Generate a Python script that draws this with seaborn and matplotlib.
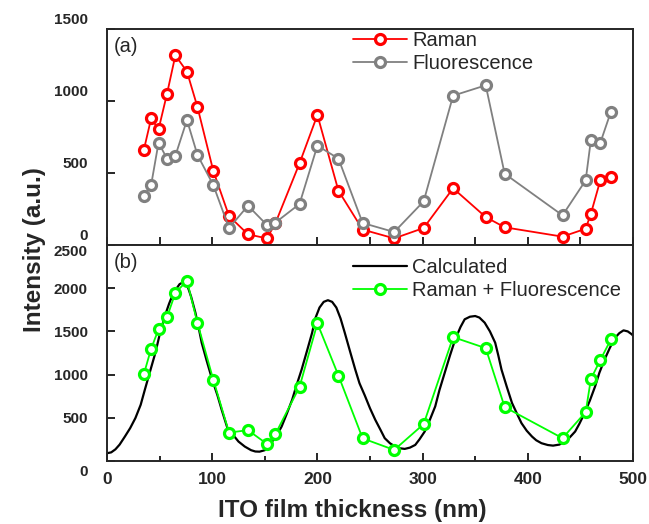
import matplotlib
matplotlib.use("Agg")
import matplotlib.pyplot as plt
import matplotlib.transforms as mtransforms
import seaborn as sns
from matplotlib.ticker import MultipleLocator

# thickness (nm) of the measured samples
thick_raman = [35, 42, 49, 57, 65, 76, 86, 101, 116, 134, 152, 160, 183, 200, 220,
               243, 273, 301, 329, 360, 378, 433, 455, 460, 469, 479]
raman = [660, 880, 803, 1049, 1317, 1204, 958, 516, 201, 74, 46, 150, 567, 903, 377,
         107, 46, 118, 394, 194, 123, 58, 113, 218, 451, 474]

thick_fluo = thick_raman
fluorescence = [338, 419, 711, 600, 620, 868, 625, 417, 118, 273, 139, 155, 285, 690, 600,
                153, 90, 303, 1037, 1109, 495, 206, 449, 731, 711, 926]

thick_sum = thick_raman
raman_fluo = [1004, 1302, 1524, 1663, 1946, 2086, 1597, 942, 329, 357, 198, 310, 857, 1593, 989,
              262, 128, 427, 1434, 1306, 624, 264, 566, 950, 1171, 1407]

# calculated curve
calc_x = [0, 4, 8, 12, 17, 22, 27, 32, 36, 41, 46, 50, 55, 59, 62, 66, 69, 72, 75, 77, 80,
          84, 87, 90, 95, 100, 105, 109, 115, 120, 125, 131, 137, 141, 145, 150, 153, 157,
          162, 166, 171, 176, 180, 185, 190, 195, 198, 202, 206, 210, 214, 218, 222, 226,
          231, 236, 240, 245, 250, 255, 260, 264, 269, 274, 278, 283, 288, 293, 297, 302,
          307, 312, 316, 321, 326, 331, 336, 340, 345, 350, 354, 359, 364, 369, 372, 375,
          380, 385, 390, 394, 399, 404, 408, 413, 419, 424, 430, 435, 440, 445, 449, 454,
          459, 464, 468, 473, 478, 483, 487, 491, 495, 499, 500]
calc_y = [90, 100, 135, 190, 283, 380, 497, 650, 826, 1040, 1253, 1460, 1678, 1820, 1911,
          1995, 2047, 2066, 2045, 2008, 1900, 1718, 1550, 1369, 1150, 942, 760, 593, 360,
          300, 225, 167, 125, 110, 108, 125, 160, 225, 310, 399, 550, 709, 870, 1058, 1270,
          1485, 1650, 1776, 1842, 1861, 1842, 1776, 1650, 1485, 1270, 1058, 900, 760, 610,
          477, 360, 264, 205, 167, 148, 140, 155, 186, 250, 341, 480, 632, 820, 1020, 1220,
          1407, 1550, 1640, 1670, 1678, 1660, 1601, 1500, 1369, 1220, 1058, 860, 671, 540,
          438, 350, 283, 240, 206, 185, 178, 190, 225, 275, 341, 430, 555, 700, 864, 1020,
          1175, 1310, 1427, 1480, 1512, 1500, 1465, 1450]

sns.set_theme(style="ticks")
plt.rcParams["font.family"] = ["Liberation Sans", "DejaVu Sans"]
plt.rcParams["axes.linewidth"] = 1.4

fig = plt.figure(figsize=(6.49, 5.24), dpi=100)
W, H = 649, 524
left, right = 107 / W, 633 / W
ax1 = fig.add_axes([left, 1 - 245 / H, right - left, (245 - 29) / H])
ax2 = fig.add_axes([left, 1 - 461 / H, right - left, (461 - 245) / H])

mk = dict(marker="o", markersize=7.2, markerfacecolor="white", markeredgewidth=2.3, linewidth=1.3)

sns.lineplot(x=thick_raman, y=raman, ax=ax1, color="#ff0000", markeredgecolor="#ff0000",
             label="Raman", **mk)
sns.lineplot(x=thick_fluo, y=fluorescence, ax=ax1, color="#808080", markeredgecolor="#808080",
             label="Fluorescence", **mk)

sns.lineplot(x=calc_x, y=calc_y, ax=ax2, color="black", linewidth=1.6, label="Calculated")
sns.lineplot(x=thick_sum, y=raman_fluo, ax=ax2, color="#00ff00", markeredgecolor="#00ff00",
             label="Raman + Fluorescence", **mk)

for ax in (ax1, ax2):
    ax.set_xlim(0, 500)
    ax.set_xlabel("")
    ax.set_ylabel("")
    ax.tick_params(axis="both", direction="in", width=1.4, length=6,
                   top=False, right=False, labelsize=11)
    ax.tick_params(axis="y", pad=14)

ax1.set_ylim(0, 1500)
ax1.yaxis.set_major_locator(MultipleLocator(500))
ax1.xaxis.set_major_locator(MultipleLocator(50))
ax1.tick_params(axis="x", labelbottom=False)

ax2.set_ylim(0, 2500)
ax2.yaxis.set_major_locator(MultipleLocator(500))
ax2.xaxis.set_major_locator(MultipleLocator(100))
ax2.xaxis.set_minor_locator(MultipleLocator(50))
ax2.tick_params(axis="x", which="minor", direction="in", length=3.5, width=1.4)
ax2.tick_params(axis="x", labelsize=12.5, pad=8)

leg_kw = dict(frameon=False, fontsize=14.5, loc="upper left", borderpad=0, borderaxespad=0,
              handlelength=2.7, handletextpad=0.25, labelspacing=0.2)
ax1.legend(bbox_to_anchor=((353 - 107) / 526, 0.99), **leg_kw)
ax2.legend(bbox_to_anchor=((353 - 107) / 526, 0.94), **leg_kw)

ax1.text(0.012, 0.965, "(a)", transform=ax1.transAxes, fontsize=14.5, va="top", ha="left")
ax2.text(0.012, 0.965, "(b)", transform=ax2.transAxes, fontsize=14.5, va="top", ha="left")

fig.text(35 / W, 1 - 250 / H, "Intensity (a.u.)", rotation=90, fontsize=17.5,
         fontweight="bold", ha="center", va="center")
fig.text(352 / W, 1 - 510 / H, "ITO film thickness (nm)", fontsize=17.5,
         fontweight="bold", ha="center", va="center")

# tick label nudges, as in the source: top panel labels sit above their ticks,
# the bottom panel's 0 sits below the axis
fig.canvas.draw()


def nudge(lab, px):
    off = mtransforms.ScaledTranslation(0, px / 100, fig.dpi_scale_trans)
    lab.set_transform(lab.get_transform() + off)


for ax in (ax1, ax2):
    for lab in ax.get_yticklabels() + ax.get_xticklabels():
        lab.set_fontweight("bold")
for lab in ax1.get_yticklabels():
    nudge(lab, 10)
for lab in ax2.get_yticklabels():
    y = lab.get_position()[1]
    if abs(y) < 1:
        nudge(lab, -9)
    elif abs(y - 2500) < 1:
        nudge(lab, -5)

fig.savefig("out.png", dpi=100)
